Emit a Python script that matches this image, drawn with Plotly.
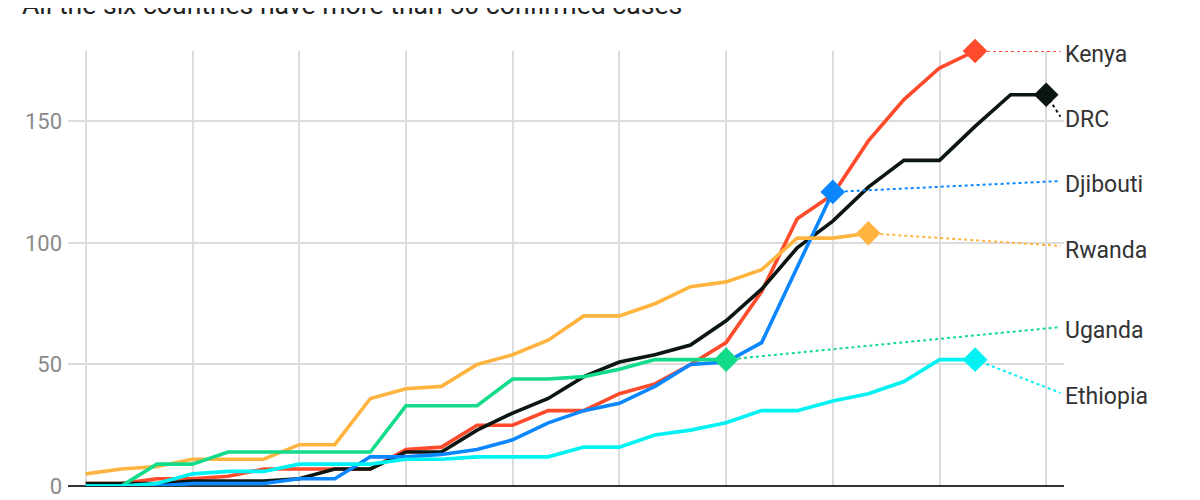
import plotly.graph_objects as go

days = list(range(28))

kenya = [1, 1, 3, 3, 4, 7, 7, 7, 7, 15, 16, 25, 25, 31, 31, 38, 42, 50, 59, 80, 110, 120, 142, 159, 172, 179]
drc = [1, 1, 1, 2, 2, 2, 3, 7, 7, 14, 14, 23, 30, 36, 45, 51, 54, 58, 68, 81, 98, 109, 123, 134, 134, 148, 161, 161]
djibouti = [0, 0, 0, 1, 1, 1, 3, 3, 12, 12, 13, 15, 19, 26, 31, 34, 41, 50, 51, 59, 90, 121]
rwanda = [5, 7, 8, 11, 11, 11, 17, 17, 36, 40, 41, 50, 54, 60, 70, 70, 75, 82, 84, 89, 102, 102, 104]
uganda = [0, 0, 9, 9, 14, 14, 14, 14, 14, 33, 33, 33, 44, 44, 45, 48, 52, 52, 52]
ethiopia = [0, 0, 1, 5, 6, 6, 9, 9, 9, 11, 11, 12, 12, 12, 16, 16, 21, 23, 26, 31, 31, 35, 38, 43, 52, 52]

names = ["Kenya", "DRC", "Djibouti", "Rwanda", "Uganda", "Ethiopia"]
series = [kenya, drc, djibouti, rwanda, uganda, ethiopia]
colors = ["#ff4a2b", "#0b1512", "#0a86ff", "#ffb440", "#12dc8a", "#00f2f2"]
# where each label sits (value units) and where its dotted connector ends
label_y = [177.5, 151, 124, 97, 64, 37]
connector_end_y = [179, 152, 125.5, 98.8, 65.4, 38.3]

FONT = "Roboto"
fig = go.Figure()

for name, vals, col, ly, cy in zip(names, series, colors, label_y, connector_end_y):
    x = days[:len(vals)]
    fig.add_trace(go.Scatter(
        x=x, y=vals, mode="lines", line=dict(color=col, width=3.6),
        showlegend=False, hoverinfo="skip", cliponaxis=False))
    fig.add_trace(go.Scatter(
        x=[x[-1], 27.4], y=[vals[-1], cy], mode="lines",
        line=dict(color=col, width=2, dash="3px,3px"),
        showlegend=False, hoverinfo="skip", cliponaxis=False))
    fig.add_trace(go.Scatter(
        x=[x[-1]], y=[vals[-1]], mode="markers",
        marker=dict(symbol="diamond", size=19, color=col),
        showlegend=False, hoverinfo="skip", cliponaxis=False))
    fig.add_annotation(x=0.9985, y=ly, xref="paper", yref="y", text=name,
                       showarrow=False, xanchor="left", yanchor="middle",
                       font=dict(family=FONT, size=23, color="#333333"))

fig.add_annotation(x=-0.0484, y=1.067, xref="paper", yref="paper", xanchor="left",
                   yanchor="bottom", showarrow=False,
                   text="All the six countries have more than 50 confirmed cases",
                   font=dict(family=FONT, size=26.6, color="#222222"))

fig.update_layout(
    width=1200, height=500,
    margin=dict(l=60, r=144, t=43, b=22, pad=0, autoexpand=False),
    plot_bgcolor="white", paper_bgcolor="white",
    font=dict(family=FONT),
    xaxis=dict(range=[-0.5, 27.5], tickmode="linear", tick0=0, dtick=3,
               showticklabels=False, showgrid=True, gridcolor="#dcdcdc",
               gridwidth=2, zeroline=False, showline=False, ticks="",
               automargin=False),
    yaxis=dict(range=[0, 179], tickvals=[0, 50, 100, 150],
               showgrid=True, gridcolor="#dcdcdc", gridwidth=2,
               zeroline=True, zerolinecolor="#333333", zerolinewidth=2,
               showline=False, ticks="", ticklabelstandoff=5,
               automargin=False,
               tickfont=dict(family=FONT, size=22, color="#8a8a8a")),
)

fig.write_html("out.html")
